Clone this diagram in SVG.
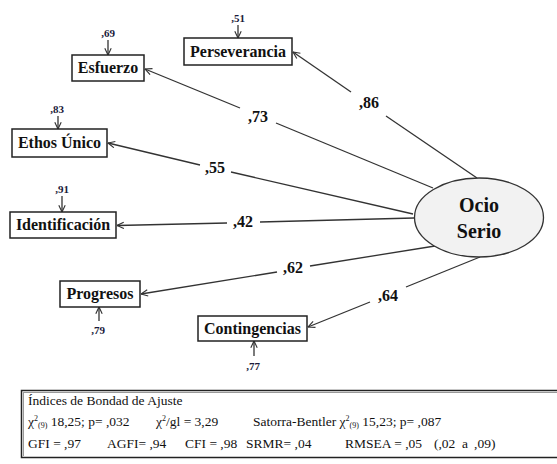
<svg xmlns="http://www.w3.org/2000/svg" width="557" height="464" viewBox="0 0 557 464">
<defs>
<marker id="ah" viewBox="0 0 10 10" refX="9.5" refY="5" markerWidth="8" markerHeight="8" markerUnits="userSpaceOnUse" orient="auto">
<path d="M1,1 L9.5,5 L1,9" fill="none" stroke="#333" stroke-width="1.4"/>
</marker>
<style>
text{font-family:'Liberation Serif','Times New Roman','DejaVu Serif',serif}
.box{fill:#fff;stroke:#222;stroke-width:1.5}
.lbl{font-weight:bold;font-size:16px;fill:#111;text-anchor:middle}
.ell{fill:#f2f2f2;stroke:#333;stroke-width:1.3}
.big{font-weight:bold;font-size:20px;fill:#111;text-anchor:middle}
.ln{fill:none;stroke:#333;stroke-width:1.3}
.w{font-weight:bold;font-size:16px;fill:#111;text-anchor:middle}
.err{font-weight:bold;font-size:11px;fill:#1a1a3a;text-anchor:middle}
.tb{font-size:13.5px;fill:#111}
.sm{font-size:8px}
</style>
</defs>
<rect width="557" height="464" fill="#fff"/>

<g id="connectors">
<path class="ln" d="M477,178 L386,116"/>
<path class="ln" d="M351,92 L293,52" marker-end="url(#ah)"/>
<path class="ln" d="M433,188 L276,123"/>
<path class="ln" d="M240,108 L145,69" marker-end="url(#ah)"/>
<path class="ln" d="M413,214 L231,172"/>
<path class="ln" d="M200,165 L108,143" marker-end="url(#ah)"/>
<path class="ln" d="M414,218 L260,222"/>
<path class="ln" d="M227,223 L117,225.5" marker-end="url(#ah)"/>
<path class="ln" d="M435,246 L310,266"/>
<path class="ln" d="M277,272 L141,294" marker-end="url(#ah)"/>
<path class="ln" d="M480,257 L406,287"/>
<path class="ln" d="M370,302 L308,327" marker-end="url(#ah)"/>
<path class="ln" d="M108,40 L108,55" marker-end="url(#ah)"/>
<path class="ln" d="M238,25 L238,38" marker-end="url(#ah)"/>
<path class="ln" d="M58,116 L58,129" marker-end="url(#ah)"/>
<path class="ln" d="M62,196 L62,212" marker-end="url(#ah)"/>
<path class="ln" d="M99,321 L99,307" marker-end="url(#ah)"/>
<path class="ln" d="M254,356 L254,341" marker-end="url(#ah)"/>
</g>

<g id="weights">
<text class="w" x="369" y="108">,86</text>
<text class="w" x="258" y="122">,73</text>
<text class="w" x="215" y="173">,55</text>
<text class="w" x="243" y="227">,42</text>
<text class="w" x="293" y="273">,62</text>
<text class="w" x="388" y="301">,64</text>
</g>

<g id="errors">
<text class="err" x="108" y="37">,69</text>
<text class="err" x="238" y="22">,51</text>
<text class="err" x="57" y="113">,83</text>
<text class="err" x="62" y="193">,91</text>
<text class="err" x="98" y="334">,79</text>
<text class="err" x="253" y="370">,77</text>
</g>

<g id="n-perseverancia">
<rect class="box" x="184" y="38" width="108" height="27"/>
<text class="lbl" x="238" y="57">Perseverancia</text>
</g>
<g id="n-esfuerzo">
<rect class="box" x="72" y="55" width="72" height="26"/>
<text class="lbl" x="108" y="73">Esfuerzo</text>
</g>
<g id="n-ethos">
<rect class="box" x="12" y="129" width="95" height="28"/>
<text class="lbl" x="59.5" y="148">Ethos Único</text>
</g>
<g id="n-identificacion">
<rect class="box" x="10" y="212" width="106" height="26"/>
<text class="lbl" x="63" y="230">Identificación</text>
</g>
<g id="n-progresos">
<rect class="box" x="60" y="281" width="80" height="26"/>
<text class="lbl" x="100" y="299">Progresos</text>
</g>
<g id="n-contingencias">
<rect class="box" x="198" y="316" width="109" height="25"/>
<text class="lbl" x="252.5" y="334">Contingencias</text>
</g>
<g id="n-ocio">
<ellipse class="ell" cx="479" cy="217.5" rx="64.5" ry="39.5"/>
<text class="big" x="479" y="212">Ocio</text>
<text class="big" x="479" y="238">Serio</text>
</g>

<g id="fit-table">
<rect x="21.5" y="390.5" width="560" height="67" fill="#fff" stroke="#222" stroke-width="1.5"/>
<line x1="23" y1="392.5" x2="557" y2="392.5" stroke="#999" stroke-width="1"/>
<line x1="23.5" y1="392" x2="23.5" y2="456" stroke="#999" stroke-width="1"/>
<text class="tb" x="28" y="405">Índices de Bondad de Ajuste</text>
<text class="tb" x="28" y="426">χ<tspan class="sm" dy="-5">2</tspan><tspan class="sm" dy="7">(9)</tspan><tspan dy="-2"> 18,25; p= ,032</tspan></text>
<text class="tb" x="156" y="426">χ<tspan class="sm" dy="-5">2</tspan><tspan dy="5">/gl = 3,29</tspan></text>
<text class="tb" x="253" y="426">Satorra-Bentler χ<tspan class="sm" dy="-5">2</tspan><tspan class="sm" dy="7">(9)</tspan><tspan dy="-2"> 15,23; p= ,087</tspan></text>
<text class="tb" x="28" y="448">GFI = ,97</text>
<text class="tb" x="107" y="448">AGFI= ,94</text>
<text class="tb" x="185" y="448">CFI = ,98</text>
<text class="tb" x="246" y="448">SRMR= ,04</text>
<text class="tb" x="345" y="448">RMSEA = ,05</text>
<text class="tb" x="434" y="448">(,02</text>
<text class="tb" x="462" y="448">a</text>
<text class="tb" x="474" y="448">,09)</text>
</g>
</svg>
